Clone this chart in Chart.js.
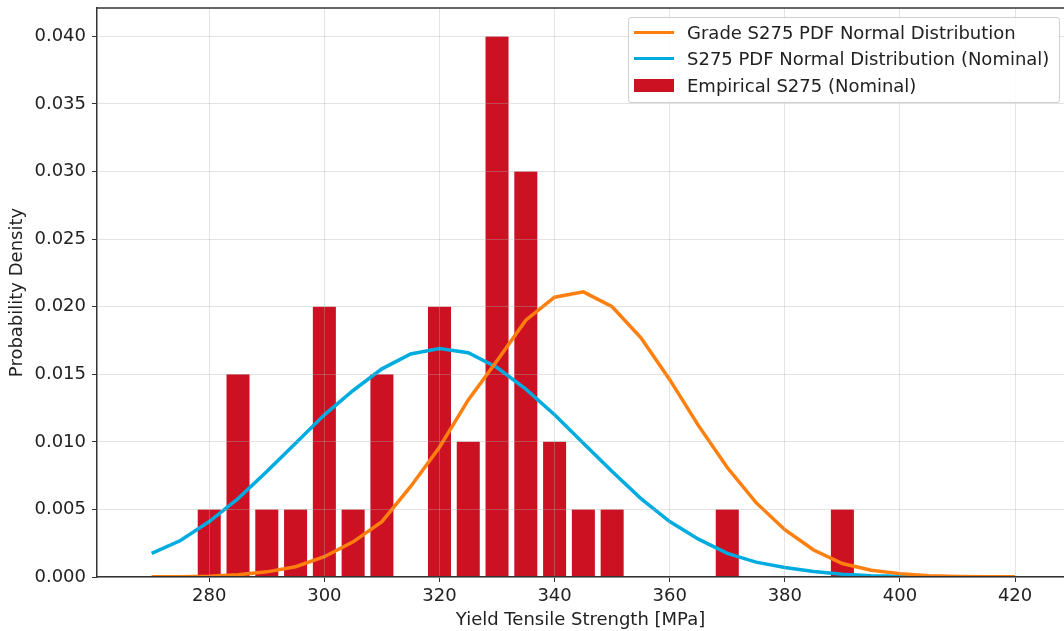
<!DOCTYPE html>
<html>
<head>
<meta charset="utf-8">
<script src="https://cdn.jsdelivr.net/npm/chart.js@4.4.1/dist/chart.umd.min.js"></script>
<style>
    html, body { margin: 0; padding: 0; background: #fff; }
    #wrap { position: relative; width: 1064px; height: 631px; }
    #legend {
        position: absolute; left: 628px; top: 17px; width: 432px; height: 86px;
        border: 1px solid #d0d0d0; border-radius: 3px; background: rgba(255,255,255,0.85);
        font-family: 'DejaVu Sans', sans-serif; font-size: 18px; color: #222;
        box-sizing: border-box; padding-top: 1px;
    }
    .item { display: flex; align-items: center; height: 26.5px; }
    .swatch { width: 40px; margin-left: 5px; margin-right: 13px; }
</style>
</head>
<body>
<div id="wrap">
    <canvas id="chart" width="1064" height="631"></canvas>
    <div id="legend"></div>
</div>
<script>
// Yield strength points for the PDF curves
const xPdf = [270, 275, 280, 285, 290, 295, 300, 305, 310, 315, 320, 325, 330, 335, 340, 345,
    350, 355, 360, 365, 370, 375, 380, 385, 390, 395, 400, 405, 410, 415, 420];
const gradePdf = [0.00001, 0.00002, 0.00005, 0.00016, 0.00038, 0.00076, 0.0015, 0.0026, 0.0041, 0.0067,
    0.0096, 0.0131, 0.0160, 0.0190, 0.0207, 0.0211, 0.0200, 0.0177, 0.0146, 0.0112, 0.0081,
    0.0055, 0.0035, 0.0020, 0.0010, 0.0005, 0.00025, 0.0001, 0.00004, 0.00002, 0.00001];
const nominalPdf = [0.00175, 0.0027, 0.0041, 0.0058, 0.0078, 0.0099, 0.0120, 0.0138, 0.0154, 0.0165,
    0.0169, 0.0166, 0.0155, 0.0139, 0.0120, 0.0099, 0.0078, 0.0058, 0.0041, 0.0028, 0.00175,
    0.0011, 0.0007, 0.0004, 0.0002, 0.0001, 0.00005, 0.00002, 0.00001, 0.000004, 0.000001];

// Empirical histogram
const binCenters = [280, 285, 290, 295, 300, 305, 310, 320, 325, 330, 335, 340, 345, 350, 370, 390];
const empirical = [0.005, 0.015, 0.005, 0.005, 0.020, 0.005, 0.015, 0.020, 0.010, 0.040, 0.030,
    0.010, 0.005, 0.005, 0.005, 0.005];

// Ticks
const xTicks = [280, 300, 320, 340, 360, 380, 400, 420];
const yTicks = [0, 0.005, 0.010, 0.015, 0.020, 0.025, 0.030, 0.035, 0.040];

const labels = [
    'Grade S275 PDF Normal Distribution',
    'S275 PDF Normal Distribution (Nominal)',
    'Empirical S275 (Nominal)'
];

Chart.defaults.font.family = "'DejaVu Sans', sans-serif";
Chart.defaults.color = '#222';

const pairs = (xs, ys) => xs.map((x, i) => ({ x: x, y: ys[i] }));

// top spine like matplotlib
const topSpine = {
    id: 'topSpine',
    afterDraw(chart) {
        const a = chart.chartArea, ctx = chart.ctx;
        ctx.save();
        ctx.strokeStyle = '#333';
        ctx.lineWidth = 1.5;
        ctx.beginPath();
        ctx.moveTo(a.left, a.top);
        ctx.lineTo(a.right, a.top);
        ctx.stroke();
        ctx.restore();
    }
};

const gridOpts = { color: 'rgba(176,176,176,0.35)', tickColor: '#333', tickLength: 5, offset: false, z: 1 };
const borderOpts = { color: '#333', width: 1.5, z: 2 };

const chart = new Chart(document.getElementById('chart'), {
    type: 'bar',
    data: {
        datasets: [{
            type: 'line',
            label: labels[0],
            data: pairs(xPdf, gradePdf),
            borderColor: '#ff7f0e',
            backgroundColor: '#ff7f0e',
            borderWidth: 3.5,
            pointRadius: 0,
            tension: 0
        }, {
            type: 'line',
            label: labels[1],
            data: pairs(xPdf, nominalPdf),
            borderColor: '#00acdf',
            backgroundColor: '#00acdf',
            borderWidth: 3.5,
            pointRadius: 0,
            tension: 0
        }, {
            type: 'bar',
            label: labels[2],
            data: pairs(binCenters, empirical),
            backgroundColor: '#cc1122',
            borderWidth: 0,
            barPercentage: 1.0,
            categoryPercentage: 0.8
        }]
    },
    options: {
        responsive: false,
        animation: false,
        layout: { padding: { top: 8, right: 0, left: 0, bottom: 0 } },
        plugins: { legend: { display: false }, tooltip: { enabled: false } },
        scales: {
            x: {
                type: 'linear',
                min: 260.5,
                max: 428.5,
                offset: false,
                afterBuildTicks: s => { s.ticks = xTicks.map(v => ({ value: v })); },
                afterFit: s => { s.height = 54; s.paddingLeft = 0; s.paddingRight = 0; },
                grid: gridOpts,
                border: borderOpts,
                ticks: { font: { size: 18 }, padding: 4, maxRotation: 0, callback: v => String(v) },
                title: { display: true, text: 'Yield Tensile Strength [MPa]', font: { size: 18 }, padding: { top: 0, bottom: 0 } }
            },
            y: {
                min: 0,
                max: 0.0421,
                afterBuildTicks: s => { s.ticks = yTicks.map(v => ({ value: v })); },
                afterFit: s => { s.width = 97; s.paddingTop = 0; s.paddingBottom = 0; },
                grid: gridOpts,
                border: borderOpts,
                ticks: { font: { size: 18 }, padding: 6, callback: v => v.toFixed(3) },
                title: { display: true, text: 'Probability Density', font: { size: 18 }, padding: { top: 7, bottom: 0 } }
            }
        }
    },
    plugins: [topSpine]
});

// legend box in the upper right, built from the datasets
const legend = document.getElementById('legend');
chart.data.datasets.forEach(ds => {
    const row = document.createElement('div');
    row.className = 'item';
    const sw = document.createElement('div');
    sw.className = 'swatch';
    if (ds.type === 'bar') {
        sw.style.height = '13px';
        sw.style.background = ds.backgroundColor;
    } else {
        sw.style.height = '3px';
        sw.style.background = ds.borderColor;
    }
    const txt = document.createElement('span');
    txt.textContent = ds.label;
    row.appendChild(sw);
    row.appendChild(txt);
    legend.appendChild(row);
});
</script>
</body>
</html>
